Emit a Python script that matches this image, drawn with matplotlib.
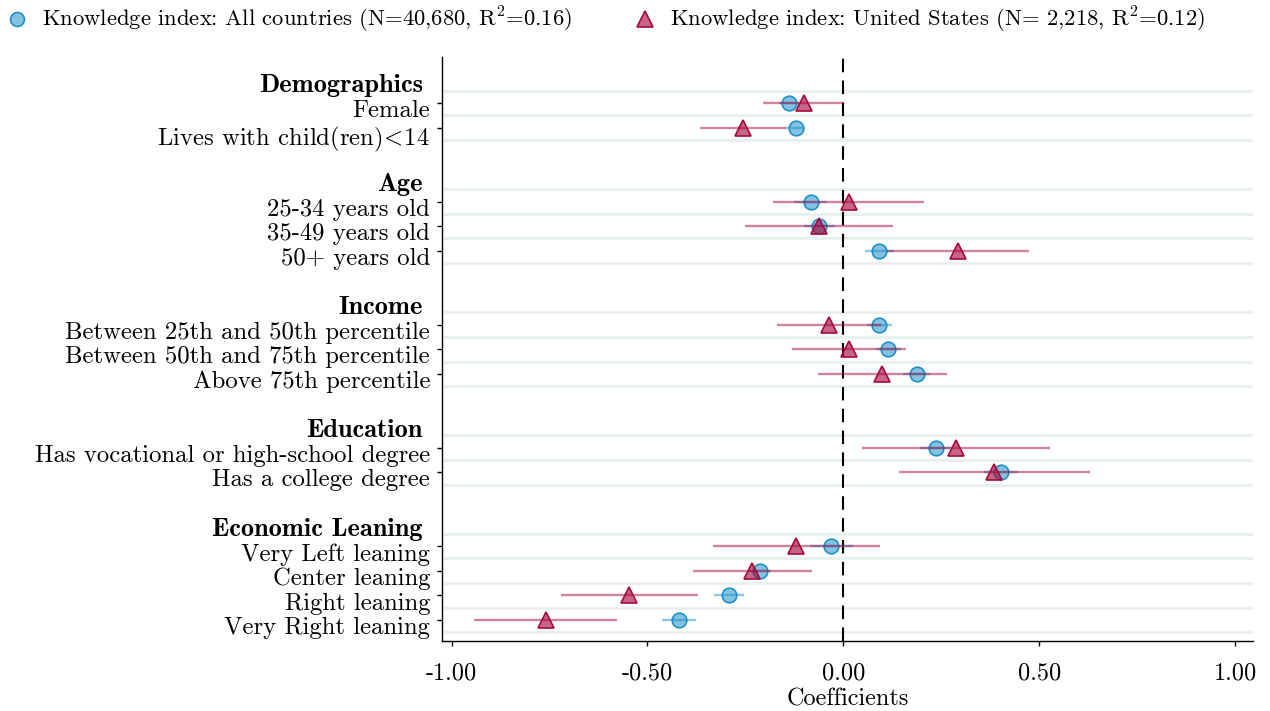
import matplotlib
matplotlib.use("Agg")
import matplotlib.pyplot as plt
import matplotlib.transforms as mtransforms
from matplotlib.lines import Line2D

plt.rcParams["font.family"] = ["cmr10", "DejaVu Serif"]
plt.rcParams["mathtext.fontset"] = "cm"
plt.rcParams["axes.unicode_minus"] = False

# variable groups and the rows under each header
groups = ["Demographics", "Age", "Income", "Education", "Economic Leaning"]
group_sizes = [2, 3, 3, 2, 4]
items = [
    "Female", r"Lives with child(ren)$\!<\!$14",
    "25-34 years old", "35-49 years old", "50+ years old",
    "Between 25th and 50th percentile", "Between 50th and 75th percentile",
    "Above 75th percentile",
    "Has vocational or high-school degree", "Has a college degree",
    "Very Left leaning", "Center leaning", "Right leaning", "Very Right leaning",
]

# knowledge index, all countries: estimate and 95% CI
all_coef = [-0.139, -0.122, -0.084, -0.062, 0.092, 0.092, 0.115, 0.188,
            0.235, 0.402, -0.031, -0.213, -0.291, -0.420]
all_lo = [-0.165, -0.147, -0.126, -0.101, 0.056, 0.060, 0.084, 0.153,
          0.195, 0.358, -0.085, -0.240, -0.330, -0.464]
all_hi = [-0.113, -0.097, -0.041, -0.022, 0.128, 0.124, 0.148, 0.222,
          0.274, 0.446, 0.024, -0.186, -0.254, -0.376]

# knowledge index, United States: estimate and 95% CI
us_coef = [-0.101, -0.256, 0.013, -0.063, 0.292, -0.037, 0.013, 0.098,
           0.286, 0.384, -0.120, -0.234, -0.546, -0.760]
us_lo = [-0.205, -0.365, -0.180, -0.252, 0.110, -0.170, -0.132, -0.066,
         0.047, 0.141, -0.334, -0.385, -0.720, -0.943]
us_hi = [0.000, -0.147, 0.206, 0.127, 0.474, 0.096, 0.160, 0.264,
         0.526, 0.630, 0.094, -0.079, -0.372, -0.578]

x_ticks = [-1.0, -0.5, 0.0, 0.5, 1.0]
x_ticklabels = ["-1.00", "-0.50", "0.00", "0.50", "1.00"]

BLUE = "#1E90C8"
RED = "#A6093D"
GRID = "#E9F0F2"

# row layout: header, its items, then one blank row
header_pos, item_pos = [], []
pos = 0
for n in group_sizes:
    header_pos.append(pos)
    item_pos.extend(range(pos + 1, pos + 1 + n))
    pos += n + 2

fig, ax = plt.subplots(figsize=(12.7, 7.11), dpi=100)
fig.subplots_adjust(left=0.3478, right=0.9866, bottom=0.0989, top=0.9198)

for y in sorted({p + d for p in item_pos for d in (-0.5, 0.5)}):
    ax.axhline(y, color=GRID, lw=2.2, zorder=1)
ax.axvline(0, color="black", lw=1.5, ls=(0, (6.5, 4)), zorder=2)

ax.hlines(item_pos, all_lo, all_hi, color=BLUE, alpha=0.5, lw=1.7, zorder=3)
ax.plot(all_coef, item_pos, "o", ms=10.5, mfc=BLUE + "8C", mec=BLUE,
        mew=1.2, zorder=4)
ax.hlines(item_pos, us_lo, us_hi, color=RED, alpha=0.5, lw=1.7, zorder=5)
ax.plot(us_coef, item_pos, "^", ms=11, mfc=RED + "A0", mec=RED,
        mew=1.2, zorder=6)

ax.set_xlim(-1.025, 1.045)
ax.set_ylim(22.84, -0.87)

ax.set_xticks(x_ticks)
ax.set_xticklabels(x_ticklabels, fontsize=17.5)
ax.set_yticks(item_pos)
ax.set_yticklabels(items, fontsize=17.8, va="top")
ax.tick_params(axis="both", length=3.6, width=1, color="black")
ax.tick_params(axis="y", pad=4.8)
ax.tick_params(axis="x", pad=12)
ax.set_xlabel("Coefficients", fontsize=17.5, labelpad=3)

# labels hang from their row a little above the tick
lift = mtransforms.ScaledTranslation(0, 3 / 100, fig.dpi_scale_trans)
for lbl in ax.get_yticklabels():
    lbl.set_transform(lbl.get_transform() + lift)

for side in ("top", "right"):
    ax.spines[side].set_visible(False)
for side in ("left", "bottom"):
    ax.spines[side].set_linewidth(1)

# bold group headers sit left of the item labels, without tick marks
head_tf = mtransforms.blended_transform_factory(ax.transAxes, ax.transData) + \
    mtransforms.ScaledTranslation(-13.5 / 72, 4 / 100, fig.dpi_scale_trans)
for name, y in zip(groups, header_pos):
    ax.text(0, y, name, transform=head_tf, ha="right", va="top",
            fontsize=19, family="cmb10")

handles = [
    Line2D([], [], ls="none", marker="o", ms=10, mfc=BLUE + "8C", mec=BLUE, mew=1.2),
    Line2D([], [], ls="none", marker="^", ms=11, mfc=RED + "A0", mec=RED, mew=1.2),
]
labels = [
    "Knowledge index: All countries (N=40,680, R$^{\\mathregular{2}}$=0.16)",
    "Knowledge index: United States (N= 2,218, R$^{\\mathregular{2}}$=0.12)",
]
fig.legend(handles, labels, loc="center left", bbox_to_anchor=(6 / 1270, 1 - 20 / 711),
           ncol=2, frameon=False, fontsize=16.3, handlelength=1.0,
           handletextpad=0.59, columnspacing=2.74, borderpad=0, borderaxespad=0)

fig.savefig("out.png", dpi=100)
